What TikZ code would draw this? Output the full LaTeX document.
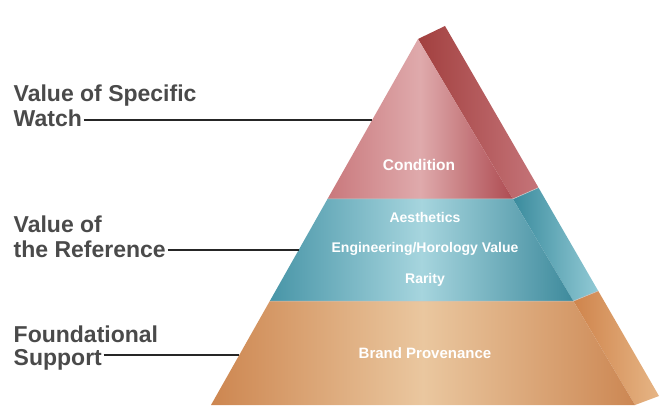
\documentclass[tikz,border=0pt]{standalone}
\usepackage{fontspec}
\setmainfont{Liberation Sans}
\usetikzlibrary{calc}
\definecolor{labelgray}{HTML}{4A4A4A}
\definecolor{redL}{HTML}{C9787C}
\definecolor{redM}{HTML}{DFAAAC}
\definecolor{redR}{HTML}{AE4C52}
\definecolor{redSL}{HTML}{A2403F}
\definecolor{redSR}{HTML}{C57479}
\definecolor{tealL}{HTML}{4895A7}
\definecolor{tealM}{HTML}{A6D5DE}
\definecolor{tealR}{HTML}{3E8A9C}
\definecolor{tealSL}{HTML}{3A8B9D}
\definecolor{tealSR}{HTML}{92CAD5}
\definecolor{orL}{HTML}{CD8650}
\definecolor{orM}{HTML}{EAC79F}
\definecolor{orR}{HTML}{CC8753}
\definecolor{orSL}{HTML}{CF844C}
\definecolor{orSR}{HTML}{E6B585}
\tikzset{
  lbl/.style={anchor=base west, inner sep=1.5pt, text=labelgray,
    font=\fontsize{23}{25}\selectfont\bfseries},
  inlbl/.style={text=white, inner sep=1pt, font=\fontsize{14}{16}\selectfont\bfseries},
  leader/.style={line width=2.6pt, draw=black!85},
  seam/.style={draw=white!55!gray, line width=0.6pt},
}
\begin{document}
\begin{tikzpicture}[x=1pt, y=-1pt]
    \useasboundingbox (0,0) rectangle (670,409);
    \coordinate (apex) at (418,39);
    \coordinate (bl) at (211,405);
    \coordinate (br) at (635,405);
    \coordinate (sapex) at (445,26);
    \coordinate (sbr) at (659,396);
    \coordinate (l1) at ($(apex)!0.437!(bl)$);
    \coordinate (r1) at ($(apex)!0.437!(br)$);
    \coordinate (s1) at ($(sapex)!0.437!(sbr)$);
    \coordinate (l2) at ($(apex)!0.716!(bl)$);
    \coordinate (r2) at ($(apex)!0.716!(br)$);
    \coordinate (s2) at ($(sapex)!0.716!(sbr)$);
    \shade[left color=redSL, right color=redSR] (apex) -- (sapex) -- (s1) -- (r1) -- cycle;
    \shade[left color=tealSL, right color=tealSR] (r1) -- (s1) -- (s2) -- (r2) -- cycle;
    \shade[left color=orSL, right color=orSR] (r2) -- (s2) -- (sbr) -- (br) -- cycle;
    \shade[left color=redL, right color=redR, middle color=redM] (apex) -- (r1) -- (l1) -- cycle;
    \shade[left color=tealL, right color=tealR, middle color=tealM] (l1) -- (r1) -- (r2) -- (l2) -- cycle;
    \shade[left color=orL, right color=orR, middle color=orM] (l2) -- (r2) -- (br) -- (bl) -- cycle;
    \draw[seam] (l1) -- (r1) -- (s1);
    \draw[seam] (l2) -- (r2) -- (s2);
    \node[inlbl, font=\fontsize{15.5}{17}\selectfont\bfseries] (condition) at (419,165) {Condition};
    \node[inlbl] (aesthetics) at (425,217) {Aesthetics};
    \node[inlbl] (engineering) at (425,249) {Engineering/Horology Value};
    \node[inlbl] (rarity) at (425,280) {Rarity};
    \node[inlbl, font=\fontsize{15}{17}\selectfont\bfseries] (brand) at (425,353) {Brand Provenance};
    \node[lbl] (specific) at (12,102) {Value of Specific};
    \node[lbl] (watch) at (12,127) {Watch};
    \node[lbl] (valueof) at (12,233) {Value of};
    \node[lbl] (reference) at (12,258) {the Reference};
    \node[lbl] (foundational) at (12,342) {Foundational};
    \node[lbl] (support) at (12,365) {Support};
    \coordinate (e1) at ($(apex)!0.2213!(bl)$);
    \coordinate (e2) at ($(apex)!0.5765!(bl)$);
    \coordinate (e3) at ($(apex)!0.8634!(bl)$);
    \draw[leader] (e1 -| watch.east) -- (e1);
    \draw[leader] (e2 -| reference.east) -- (e2);
    \draw[leader] (e3 -| support.east) -- (e3);
\end{tikzpicture}
\end{document}
